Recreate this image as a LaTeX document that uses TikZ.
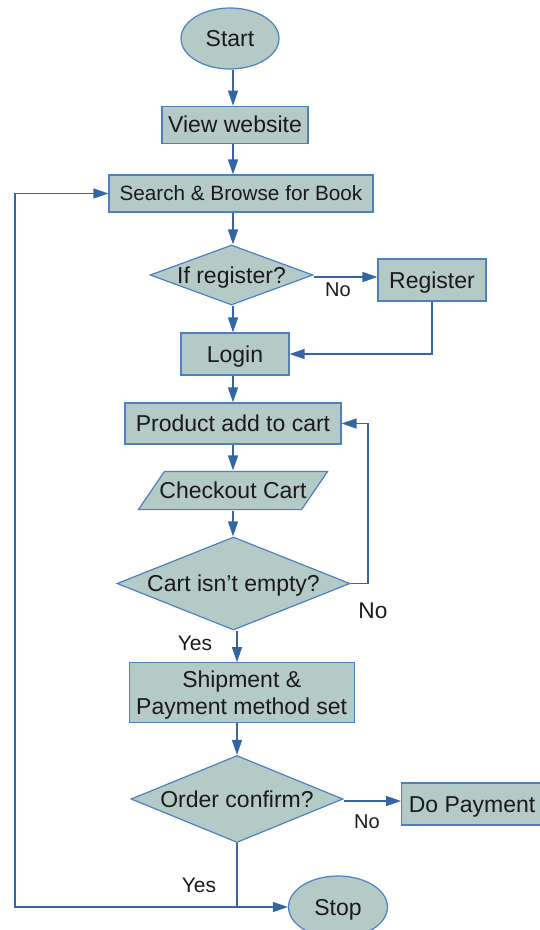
\documentclass[tikz,border=0pt]{standalone}
\usepackage{fontspec}
\setmainfont{Liberation Sans}
\usetikzlibrary{shapes.geometric,arrows.meta,backgrounds}
\definecolor{boxfill}{HTML}{B3CAC7}
\definecolor{boxdraw}{HTML}{4F7FBF}
\definecolor{linecol}{HTML}{3465A4}
\definecolor{txt}{HTML}{1A1A1A}
\begin{document}
\begin{tikzpicture}[x=1pt,y=-1pt,
  base/.style={fill=boxfill, draw=boxdraw, line width=1.2pt, font=\fontsize{23}{26.6}\selectfont, text=txt, inner sep=0pt},
  capc/.style={text height=16.5pt, text depth=0pt},
  procbox/.style={base, capc, rectangle},
  termbox/.style={base, capc, ellipse},
  decbox/.style={base, capc, diamond},
  conn/.style={draw=linecol, line width=1.3pt, -{Triangle[length=15pt,width=10pt]}},
  lbl/.style={font=\fontsize{20}{24}\selectfont, text=txt, inner sep=0pt}
]
\useasboundingbox (0,0) rectangle (539,930);

% nodes
\node[termbox, minimum width=98, minimum height=61] (start) at (230,38.5) {Start};
\node[procbox, minimum width=146, minimum height=37] (view) at (235,124.7) {View website};
\node[procbox, minimum width=264, minimum height=37, font=\fontsize{20.7}{24}\selectfont, text height=14.8pt] (search) at (241,193.5) {Search \& Browse for Book};
\node[decbox, minimum width=163, minimum height=60] (ifreg) at (231.5,275) {\makebox[0pt]{If register?}};
\node[procbox, minimum width=108, minimum height=42] (register) at (432,280) {Register};
\node[procbox, minimum width=108, minimum height=42] (login) at (235,354) {Login};
\node[procbox, minimum width=216, minimum height=41] (product) at (233,423.5) {Product add to cart};
\node[base, capc, draw=none, fill=none, minimum width=162, minimum height=37] (checkout) at (233,490.5) {Checkout Cart};
\begin{scope}[on background layer]
\path[fill=boxfill, draw=boxdraw, line width=1.2pt]
  ([xshift=-13pt]checkout.south west) -- ([xshift=-13pt]checkout.south east)
  -- ([xshift=13pt]checkout.north east) -- ([xshift=13pt]checkout.north west) -- cycle;
\end{scope}
\node[decbox, minimum width=233, minimum height=93] (cart) at (233.5,583.5) {\makebox[0pt]{Cart isn't empty?}};
\node[base, rectangle, text depth=0pt, minimum width=225, minimum height=60, align=center] (ship) at (241.7,692.7) {Shipment \&\\Payment method set};
\node[decbox, minimum width=212, minimum height=87] (order) at (237,799) {\makebox[0pt]{Order confirm?}};
\node[procbox, minimum width=141, minimum height=42, anchor=west] (pay) at (401,804) {Do Payment};
\node[termbox, minimum width=99, minimum height=62] (stop) at (338,907) {Stop};

% helper coordinates
\coordinate (ax) at (233,0);
\coordinate (bx) at (237,0);
\coordinate (loopx) at (368,0);
\coordinate (lx) at (15,0);

% connectors
\draw[conn] (start.south -| ax) -- (view.north -| ax);
\draw[conn] (view.south -| ax) -- (search.north -| ax);
\draw[conn] (search.south -| ax) -- (ifreg.north -| ax);
\draw[conn] (ifreg.south -| ax) -- (login.north -| ax);
\draw[conn] (login.south -| ax) -- (product.north -| ax);
\draw[conn] (product.south -| ax) -- ([yshift=1pt]checkout.north -| ax);
\draw[conn] ([yshift=-1pt]checkout.south -| ax) -- (cart.north -| ax);
\draw[conn] (cart.south -| bx) -- (ship.north -| bx);
\draw[conn] (ship.south -| bx) -- (order.north -| bx);
\draw[conn] ([yshift=-2pt]ifreg.east) -- ([yshift=-2pt]ifreg.east -| register.west);
\draw[conn] (register.south) |- (login.east);
\draw[conn] (cart.east) -- (cart.east -| loopx) -- (product.east -| loopx) -- (product.east);
\draw[conn] ([yshift=-2pt]order.east) -- ([yshift=-2pt]order.east -| pay.west);
\coordinate (jn) at (order.south |- stop.west);
\draw[conn] (order.south) -- (jn) -- (stop.west);
\draw[conn] (jn) -- (jn -| lx) -- (search.west -| lx) -- (search.west);

% labels
\node[lbl] (no1) at (338,290) {No};
\node[lbl, font=\fontsize{22.7}{26}\selectfont] (no2) at (373,611) {No};
\node[lbl, font=\fontsize{21}{25}\selectfont] (yes1) at (195,643) {Yes};
\node[lbl] (no3) at (367,822) {No};
\node[lbl, font=\fontsize{21}{25}\selectfont] (yes2) at (199,885) {Yes};
\end{tikzpicture}
\end{document}
